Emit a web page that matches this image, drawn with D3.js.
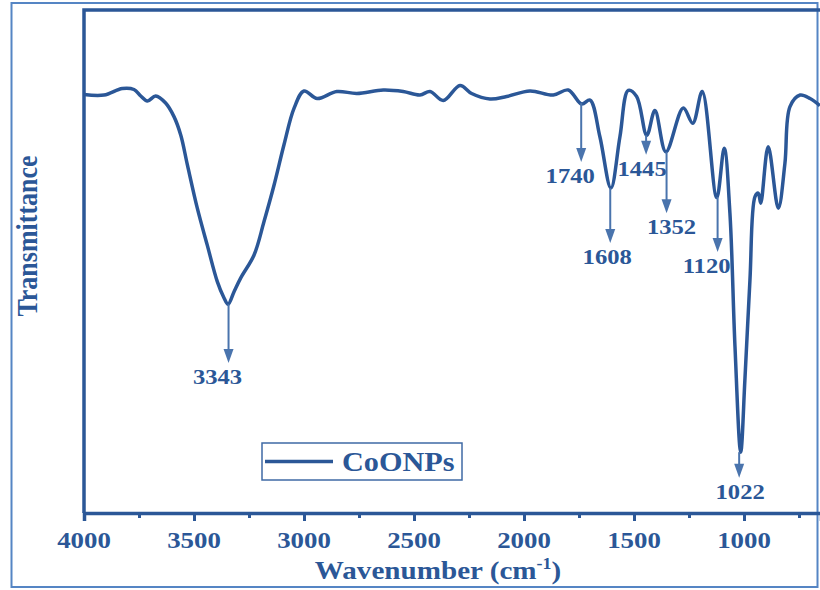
<!DOCTYPE html>
<html>
<head>
<meta charset="utf-8">
<script src="https://cdn.jsdelivr.net/npm/d3@7"></script>
<style>
  html, body { margin: 0; padding: 0; background: #ffffff; }
  svg { display: block; }
  text { font-family: "Liberation Serif", "Times New Roman", serif; font-weight: bold; }
</style>
</head>
<body>
<svg id="chart" width="820" height="590"></svg>
<script>
// ---- data ----
const wavenumbers = [4000, 3909, 3826, 3773, 3742, 3712, 3674, 3629, 3591, 3560, 3530, 3485, 3440, 3394, 3365, 3345, 3318, 3288, 3227, 3182, 3136, 3091, 3045, 3000, 2940, 2851, 2760, 2640, 2549, 2473, 2427, 2367, 2291, 2238, 2155, 2079, 1973, 1867, 1799, 1738, 1700, 1655, 1605, 1564, 1526, 1488, 1442, 1405, 1355, 1276, 1233, 1190, 1124, 1090, 1064, 1041, 1015, 996, 973, 950, 935, 924, 890, 844, 814, 791, 745, 700, 655];
const transmittance = [83.2, 83.1, 84.4, 84.2, 82.9, 81.9, 82.9, 81.5, 78.8, 75.1, 69.2, 60.6, 53.3, 46.0, 42.9, 41.5, 44.0, 46.7, 51.3, 57.9, 65.2, 73.2, 80.5, 83.9, 82.4, 83.8, 83.4, 84.1, 83.8, 83.1, 83.8, 82.0, 85.0, 83.4, 82.3, 82.8, 83.9, 83.1, 84.1, 81.3, 82.1, 74.8, 64.6, 74.8, 84.0, 82.8, 75.1, 80.0, 71.8, 80.5, 77.5, 83.8, 62.7, 72.5, 59.6, 33.1, 12.1, 26.4, 46.3, 62.9, 63.6, 61.6, 72.8, 60.6, 69.5, 80.8, 83.1, 82.4, 81.0];
const seriesName = "CoONPs";

const peakLabels = ["3343", "1740", "1608", "1445", "1352", "1120", "1022"];
const peakTop    = [41.5, 81.5, 64.6, 75.1, 71.8, 62.8, 12.1];   // arrow start (on curve)
const peakTip    = [29.8, 69.8, 53.7, 71.2, 59.6, 51.9, 7.0];    // arrow head tip
const peakLabelDx = [-11, -11, -3, -4, 5, -11, 1];

const majorTicks = [4000, 3500, 3000, 2500, 2000, 1500, 1000];
const minorTicks = [3750, 3250, 2750, 2250, 1750, 1250, 750];

// ---- layout ----
const svg = d3.select("#chart");
const mainColor = "#2b5797";
const arrowColor = "#4a74ad";
const stretch = 1.12;

const x = d3.scaleLinear().domain([4000, 650]).range([84, 821]);
const y = d3.scaleLinear().domain([0, 100]).range([513, 10]);

// outer border
svg.append("rect")
  .attr("x", 11.5).attr("y", 3).attr("width", 806).attr("height", 584)
  .attr("fill", "none").attr("stroke", "#5585c4").attr("stroke-width", 2);

// plot frame (left + top)
svg.append("path")
  .attr("d", `M${x(4000)},${y(0)} L${x(4000)},${y(100)} L822,${y(100)}`)
  .attr("fill", "none").attr("stroke", mainColor).attr("stroke-width", 3.5);

// x axis
const xAxis = d3.axisBottom(x).tickValues(majorTicks).tickSize(8).tickFormat("");
const gx = svg.append("g").attr("transform", `translate(0,${y(0)})`).call(xAxis);
gx.select(".domain").attr("stroke", mainColor).attr("stroke-width", 3.5);
gx.selectAll(".tick line").attr("stroke", mainColor).attr("stroke-width", 3);
const xMinor = d3.axisBottom(x).tickValues(minorTicks).tickSize(5).tickFormat("");
const gxm = svg.append("g").attr("transform", `translate(0,${y(0)})`).call(xMinor);
gxm.select(".domain").remove();
gxm.selectAll(".tick line").attr("stroke", mainColor).attr("stroke-width", 3);

// tick labels (stretched horizontally like the reference)
svg.append("g").selectAll("text").data(majorTicks).join("text")
  .attr("transform", d => `translate(${x(d)},548) scale(${stretch},1)`)
  .attr("text-anchor", "middle")
  .attr("font-size", 24)
  .attr("fill", mainColor)
  .text(d => d);

// x title
const xt = svg.append("text")
  .attr("transform", `translate(438,579) scale(${stretch},1)`)
  .attr("text-anchor", "middle")
  .attr("font-size", 26)
  .attr("fill", mainColor);
xt.append("tspan").text("Wavenumber (cm");
xt.append("tspan").attr("dy", -10).attr("font-size", 16).text("-1");
xt.append("tspan").attr("dy", 10).text(")");

// y title
svg.append("text")
  .attr("transform", `translate(37,236) scale(${stretch},1) rotate(-90)`)
  .attr("text-anchor", "middle")
  .attr("font-size", 26)
  .attr("fill", mainColor)
  .text("Transmittance");

// spectrum
const pts = wavenumbers.map((w, i) => [w, transmittance[i]]);
const line = d3.line()
  .x(d => x(d[0])).y(d => y(d[1]))
  .curve(d3.curveCatmullRom.alpha(0.5));
svg.append("path")
  .datum(pts)
  .attr("d", line)
  .attr("fill", "none")
  .attr("stroke", mainColor)
  .attr("stroke-width", 3.5)
  .attr("stroke-linejoin", "round");

// peak annotations
const ann = svg.append("g");
peakLabels.forEach((lab, i) => {
  const px = x(+lab);
  const y0 = y(peakTop[i]);
  const y1 = y(peakTip[i]);
  ann.append("line")
    .attr("x1", px).attr("x2", px)
    .attr("y1", y0).attr("y2", y1 - 10)
    .attr("stroke", arrowColor).attr("stroke-width", 2);
  ann.append("path")
    .attr("d", `M${px - 5},${y1 - 14} L${px + 5},${y1 - 14} L${px},${y1} Z`)
    .attr("fill", arrowColor);
  ann.append("text")
    .attr("transform", `translate(${px + peakLabelDx[i]},${y1 + 21}) scale(${stretch},1)`)
    .attr("text-anchor", "middle")
    .attr("font-size", 22)
    .attr("fill", mainColor)
    .text(lab);
});

// legend
const lg = svg.append("g");
lg.append("rect")
  .attr("x", 262).attr("y", 443).attr("width", 200).attr("height", 37)
  .attr("fill", "#ffffff").attr("stroke", "#3f6aa5").attr("stroke-width", 1.5);
lg.append("line")
  .attr("x1", 265).attr("x2", 333).attr("y1", 461.5).attr("y2", 461.5)
  .attr("stroke", mainColor).attr("stroke-width", 3.5);
lg.append("text")
  .attr("transform", `translate(342,471) scale(${stretch},1)`)
  .attr("font-size", 27)
  .attr("fill", mainColor)
  .text(seriesName);
</script>
</body>
</html>
